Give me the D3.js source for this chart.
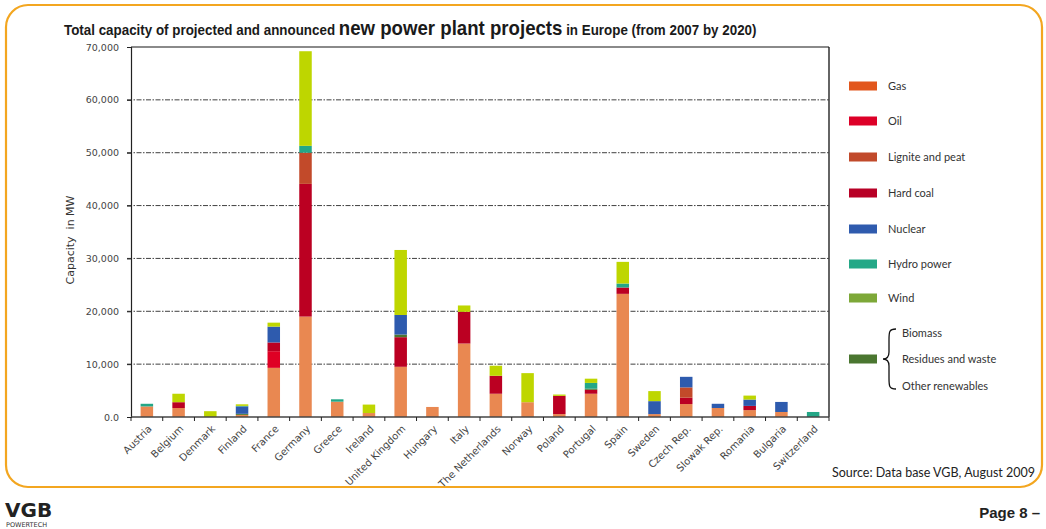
<!DOCTYPE html>
<html>
<head>
<meta charset="utf-8">
<script src="https://cdn.jsdelivr.net/npm/d3@7"></script>
<style>
    html, body { margin: 0; padding: 0; background: #fff; }
    svg { display: block; }
</style>
</head>
<body>
<script>
"use strict";

// countries along the x axis
const countries = [
    "Austria", "Belgium", "Denmark", "Finland", "France", "Germany", "Greece",
    "Ireland", "United Kingdom", "Hungary", "Italy", "The Netherlands", "Norway",
    "Poland", "Portugal", "Spain", "Sweden", "Czech Rep.", "Slowak Rep.",
    "Romania", "Bulgaria", "Switzerland"
];

// capacity in MW per energy source, one value per country
const gas        = [2000, 1700, 0, 400, 9300, 19000, 2900, 750, 9500, 1900, 13900, 4400, 2800, 550, 4400, 23300, 550, 2450, 1700, 1300, 950, 0];
const oil        = [0, 0, 0, 0, 3150, 0, 0, 0, 0, 0, 0, 0, 0, 0, 0, 0, 0, 0, 0, 0, 0, 0];
const hardCoal   = [0, 1100, 0, 0, 1650, 25100, 0, 0, 5600, 0, 6000, 3400, 0, 3450, 750, 1200, 0, 1200, 0, 800, 0, 0];
const lignite    = [0, 0, 0, 0, 0, 5900, 0, 0, 0, 0, 0, 0, 0, 0, 0, 0, 0, 1950, 0, 0, 0, 0];
const renewables = [0, 0, 0, 200, 0, 0, 0, 0, 500, 0, 0, 0, 0, 0, 200, 0, 0, 0, 0, 0, 0, 0];
const nuclear    = [0, 0, 0, 1400, 3000, 0, 0, 0, 3700, 0, 0, 0, 0, 0, 0, 0, 2450, 2000, 800, 1200, 1900, 0];
const hydro      = [500, 0, 0, 100, 0, 1300, 450, 0, 0, 0, 0, 0, 0, 0, 1100, 750, 0, 0, 0, 0, 0, 950];
const wind       = [0, 1600, 1100, 300, 750, 17900, 0, 1600, 12300, 0, 1200, 1900, 5500, 250, 800, 4100, 1900, 0, 0, 750, 0, 0];

// y axis ticks
const yTicks = [0, 10000, 20000, 30000, 40000, 50000, 60000, 70000];
const yTickLabels = ["0.0", "10,000", "20,000", "30,000", "40,000", "50,000", "60,000", "70,000"];

// legend entries (top to bottom)
const legendLabels = ["Gas", "Oil", "Lignite and peat", "Hard coal", "Nuclear", "Hydro power", "Wind"];
const legendColors = ["#e2561c", "#dd0028", "#c14a2b", "#b80026", "#2f5bae", "#24a887", "#7da838"];
const otherLabels  = ["Biomass", "Residues and waste", "Other renewables"];
const otherColor   = "#4a7630";

// series in stacking order, bottom to top
const series = [
    { key: "gas",        values: gas,        color: "#e98851" },
    { key: "oil",        values: oil,        color: "#df0024" },
    { key: "hardCoal",   values: hardCoal,   color: "#bb0022" },
    { key: "lignite",    values: lignite,    color: "#c24a2a" },
    { key: "renewables", values: renewables, color: "#4b7630" },
    { key: "nuclear",    values: nuclear,    color: "#2e5bae" },
    { key: "hydro",      values: hydro,      color: "#23a787" },
    { key: "wind",       values: wind,       color: "#bed600" }
];

const W = 1046, H = 529;
const plot = { left: 131, right: 829, top: 47, bottom: 417 };

const svg = d3.select("body").append("svg")
              .attr("width", W)
              .attr("height", H);

// rounded orange frame
svg.append("rect")
   .attr("x", 6).attr("y", 5)
   .attr("width", 1036).attr("height", 482)
   .attr("rx", 22).attr("ry", 22)
   .attr("fill", "none")
   .attr("stroke", "#f3a620")
   .attr("stroke-width", 2.2);

// title with a bigger middle part, squeezed to the condensed width of the original
const title = svg.append("text")
                 .attr("x", 0).attr("y", 0)
                 .attr("font-family", "Liberation Sans, Arial, sans-serif")
                 .attr("font-weight", "bold")
                 .attr("fill", "#1a1a1a");
title.append("tspan").attr("font-size", 14).text("Total capacity of projected and announced ");
title.append("tspan").attr("font-size", 19.5).text("new power plant projects");
title.append("tspan").attr("font-size", 14).text(" in Europe (from 2007 by 2020)");
const titleLen = title.node().getComputedTextLength();
title.attr("transform", `translate(64,35) scale(${693 / titleLen},1)`);

const x = d3.scaleBand()
            .domain(countries)
            .range([plot.left, plot.right])
            .padding(0);

const y = d3.scaleLinear()
            .domain([0, 70000])
            .range([plot.bottom, plot.top]);

const barWidth = 12.5;

// dashed grid lines
svg.append("g")
   .selectAll("line")
   .data(yTicks.filter(t => t > 0 && t < 70000))
   .join("line")
   .attr("x1", plot.left - 4).attr("x2", plot.right)
   .attr("y1", d => y(d)).attr("y2", d => y(d))
   .attr("stroke", "#2a2a2a")
   .attr("stroke-width", 0.9)
   .attr("stroke-dasharray", "5,1.5,1.5,1.5");

// top line and right edge of the plot
svg.append("line")
   .attr("x1", plot.left).attr("x2", plot.right)
   .attr("y1", y(70000)).attr("y2", y(70000))
   .attr("stroke", "#8a8a8a").attr("stroke-width", 2);
svg.append("line")
   .attr("x1", plot.right).attr("x2", plot.right)
   .attr("y1", y(70000)).attr("y2", plot.bottom)
   .attr("stroke", "#111").attr("stroke-width", 1.3);

// stacked bars
const rows = countries.map((c, i) => {
    const row = { country: c };
    series.forEach(s => { row[s.key] = s.values[i]; });
    return row;
});

const stacked = d3.stack().keys(series.map(s => s.key))(rows);

svg.append("g")
   .selectAll("g")
   .data(stacked)
   .join("g")
   .attr("fill", (d, i) => series[i].color)
   .selectAll("rect")
   .data(d => d.filter(p => p[1] > p[0]))
   .join("rect")
   .attr("x", d => x(d.data.country) + x.bandwidth() / 2 - barWidth / 2)
   .attr("width", barWidth)
   .attr("y", d => y(d[1]))
   .attr("height", d => y(d[0]) - y(d[1]));

// y axis
const yAxis = d3.axisLeft(y)
                .tickValues(yTicks)
                .tickSize(4)
                .tickFormat((d, i) => yTickLabels[i]);

svg.append("g")
   .attr("transform", `translate(${plot.left},0)`)
   .call(yAxis)
   .call(g => g.select(".domain").attr("stroke", "#222").attr("stroke-width", 1.2))
   .call(g => g.selectAll(".tick line").attr("stroke", "#222"))
   .call(g => g.selectAll(".tick text")
               .attr("x", -12)
               .attr("font-family", "DejaVu Sans, Verdana, sans-serif")
               .attr("font-size", 9.5)
               .attr("fill", "#444"));

// x axis: ticks on band edges, labels rotated
const xEdges = countries.map(c => x(c)).concat([plot.right]);
svg.append("line")
   .attr("x1", plot.left).attr("x2", plot.right)
   .attr("y1", plot.bottom).attr("y2", plot.bottom)
   .attr("stroke", "#444").attr("stroke-width", 1.4);
svg.append("g")
   .selectAll("line")
   .data(xEdges)
   .join("line")
   .attr("x1", d => d).attr("x2", d => d)
   .attr("y1", plot.bottom).attr("y2", plot.bottom + 4)
   .attr("stroke", "#222");

svg.append("g")
   .selectAll("text")
   .data(countries)
   .join("text")
   .attr("transform", d => `translate(${x(d) + x.bandwidth() / 2 + 3},${plot.bottom + 10}) rotate(-45)`)
   .attr("text-anchor", "end")
   .attr("dy", "0.35em")
   .attr("font-family", "DejaVu Sans, Verdana, sans-serif")
   .attr("font-size", 10)
   .attr("fill", "#444")
   .text(d => d);

// y axis title
svg.append("text")
   .attr("transform", `translate(74,${(plot.top + plot.bottom) / 2 + 8}) rotate(-90)`)
   .attr("text-anchor", "middle")
   .attr("font-family", "DejaVu Sans, Verdana, sans-serif")
   .attr("font-size", 11)
   .attr("fill", "#333")
   .attr("xml:space", "preserve")
   .text("Capacity  in MW");

// legend
const legendY = [86, 121, 157, 193, 229, 264, 298];
const legend = svg.append("g")
                  .selectAll("g")
                  .data(legendLabels)
                  .join("g")
                  .attr("transform", (d, i) => `translate(849,${legendY[i]})`);
legend.append("rect")
      .attr("x", 0).attr("y", -4.5)
      .attr("width", 28).attr("height", 9)
      .attr("fill", (d, i) => legendColors[i]);
legend.append("text")
      .attr("x", 39).attr("dy", "0.35em")
      .attr("font-family", "Lato, sans-serif")
      .attr("font-size", 11)
      .attr("fill", "#333")
      .text(d => d);

// grouped "other renewables" entry with a brace
svg.append("rect")
   .attr("x", 849).attr("y", 354.5)
   .attr("width", 28).attr("height", 9)
   .attr("fill", otherColor);
svg.append("path")
   .attr("d", "M896,329 C889,329 889,332 889,340 L889,352 C889,357 887,359 883,359 " +
              "C887,359 889,361 889,366 L889,378 C889,386 889,389 896,389")
   .attr("fill", "none")
   .attr("stroke", "#111")
   .attr("stroke-width", 1.3);
svg.append("g")
   .selectAll("text")
   .data(otherLabels)
   .join("text")
   .attr("x", 902)
   .attr("y", (d, i) => 333 + i * 26.5)
   .attr("dy", "0.35em")
   .attr("font-family", "Lato, sans-serif")
   .attr("font-size", 11)
   .attr("fill", "#333")
   .text(d => d);

// source note
svg.append("text")
   .attr("x", 1035).attr("y", 477)
   .attr("text-anchor", "end")
   .attr("font-family", "Lato, sans-serif")
   .attr("font-size", 12.5)
   .attr("fill", "#222")
   .text("Source: Data base VGB, August 2009");

// footer: logo and page number
svg.append("text")
   .attr("x", 5).attr("y", 517)
   .attr("font-family", "DejaVu Sans, sans-serif")
   .attr("font-weight", "bold")
   .attr("font-size", 20)
   .attr("fill", "#222")
   .text("VGB");
svg.append("text")
   .attr("x", 6).attr("y", 527)
   .attr("font-family", "DejaVu Sans, sans-serif")
   .attr("font-size", 6.5)
   .attr("fill", "#333")
   .text("POWERTECH");
svg.append("text")
   .attr("x", 1040).attr("y", 518)
   .attr("text-anchor", "end")
   .attr("font-family", "Liberation Sans, sans-serif")
   .attr("font-weight", "bold")
   .attr("font-size", 15)
   .attr("fill", "#222")
   .text("Page 8 –");
</script>
</body>
</html>
